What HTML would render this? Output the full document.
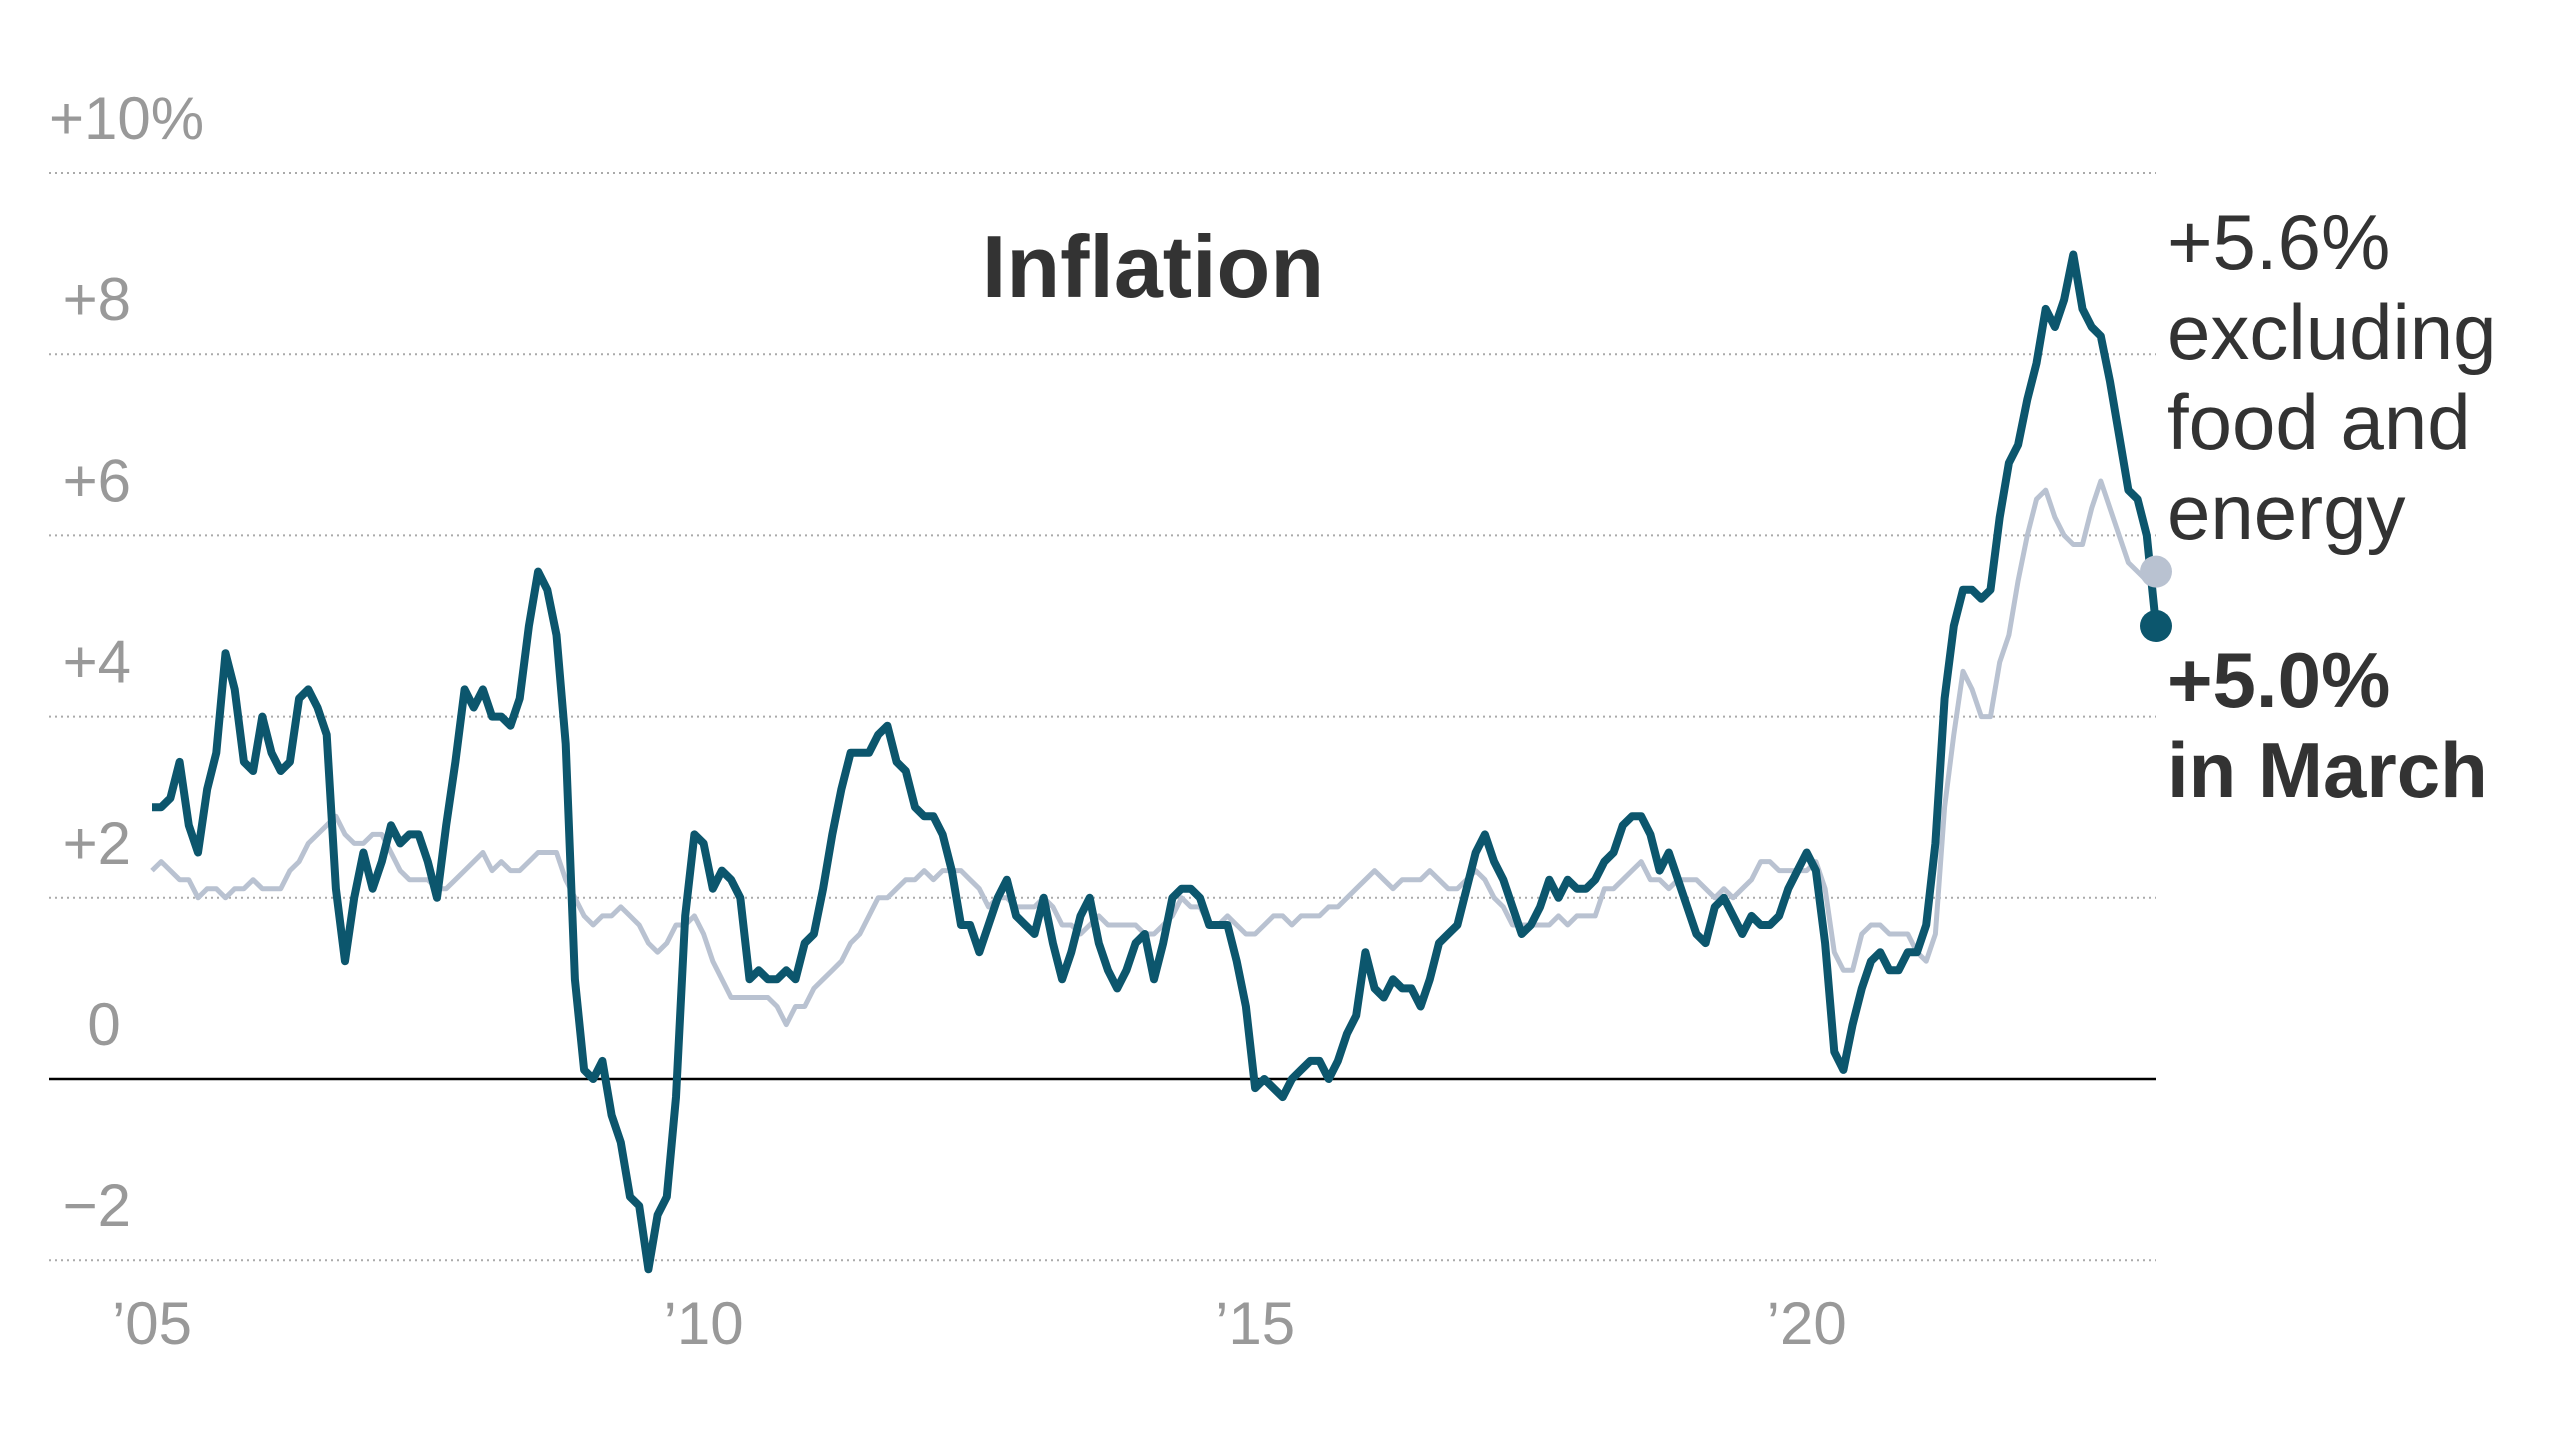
<!DOCTYPE html>
<html><head><meta charset="utf-8"><style>
html,body{margin:0;padding:0;background:#fff}
svg{display:block}
text{font-family:"Liberation Sans",sans-serif}
</style></head><body>
<svg id="chart" width="2560" height="1442" viewBox="0 0 2560 1442" xmlns="http://www.w3.org/2000/svg">
<text x="1153" y="297" font-size="88" font-weight="bold" fill="#333" text-anchor="middle">Inflation</text>
<g id="grid"></g>
<g id="yticks"></g>
<g id="xticks"></g>
<g id="series"></g>
<g font-size="78" fill="#333">
<text x="2167" y="269">+5.6%</text>
<text x="2167" y="359">excluding</text>
<text x="2167" y="449">food and</text>
<text x="2167" y="539">energy</text>
</g>
<g font-size="78" font-weight="bold" fill="#333">
<text x="2167" y="707">+5.0%</text>
<text x="2167" y="797">in March</text>
</g>
</svg>
<script>
const headline = [
3.0,3.0,3.1,3.5,2.8,2.5,3.2,3.6,4.7,4.3,3.5,3.4,
4.0,3.6,3.4,3.5,4.2,4.3,4.1,3.8,2.1,1.3,2.0,2.5,
2.1,2.4,2.8,2.6,2.7,2.7,2.4,2.0,2.8,3.5,4.3,4.1,
4.3,4.0,4.0,3.9,4.2,5.0,5.6,5.4,4.9,3.7,1.1,0.1,
0.0,0.2,-0.4,-0.7,-1.3,-1.4,-2.1,-1.5,-1.3,-0.2,1.8,2.7,
2.6,2.1,2.3,2.2,2.0,1.1,1.2,1.1,1.1,1.2,1.1,1.5,
1.6,2.1,2.7,3.2,3.6,3.6,3.6,3.8,3.9,3.5,3.4,3.0,
2.9,2.9,2.7,2.3,1.7,1.7,1.4,1.7,2.0,2.2,1.8,1.7,
1.6,2.0,1.5,1.1,1.4,1.8,2.0,1.5,1.2,1.0,1.2,1.5,
1.6,1.1,1.5,2.0,2.1,2.1,2.0,1.7,1.7,1.7,1.3,0.8,
-0.1,0.0,-0.1,-0.2,0.0,0.1,0.2,0.2,0.0,0.2,0.5,0.7,
1.4,1.0,0.9,1.1,1.0,1.0,0.8,1.1,1.5,1.6,1.7,2.1,
2.5,2.7,2.4,2.2,1.9,1.6,1.7,1.9,2.2,2.0,2.2,2.1,
2.1,2.2,2.4,2.5,2.8,2.9,2.9,2.7,2.3,2.5,2.2,1.9,
1.6,1.5,1.9,2.0,1.8,1.6,1.8,1.7,1.7,1.8,2.1,2.3,
2.5,2.3,1.5,0.3,0.1,0.6,1.0,1.3,1.4,1.2,1.2,1.4,
1.4,1.7,2.6,4.2,5.0,5.4,5.4,5.3,5.4,6.2,6.8,7.0,
7.5,7.9,8.5,8.3,8.6,9.1,8.5,8.3,8.2,7.7,7.1,6.5,
6.4,6.0,5.0];
const core = [
2.3,2.4,2.3,2.2,2.2,2.0,2.1,2.1,2.0,2.1,2.1,2.2,
2.1,2.1,2.1,2.3,2.4,2.6,2.7,2.8,2.9,2.7,2.6,2.6,
2.7,2.7,2.5,2.3,2.2,2.2,2.2,2.1,2.1,2.2,2.3,2.4,
2.5,2.3,2.4,2.3,2.3,2.4,2.5,2.5,2.5,2.2,2.0,1.8,
1.7,1.8,1.8,1.9,1.8,1.7,1.5,1.4,1.5,1.7,1.7,1.8,
1.6,1.3,1.1,0.9,0.9,0.9,0.9,0.9,0.8,0.6,0.8,0.8,
1.0,1.1,1.2,1.3,1.5,1.6,1.8,2.0,2.0,2.1,2.2,2.2,
2.3,2.2,2.3,2.3,2.3,2.2,2.1,1.9,2.0,2.0,1.9,1.9,
1.9,2.0,1.9,1.7,1.7,1.6,1.7,1.8,1.7,1.7,1.7,1.7,
1.6,1.6,1.7,1.8,2.0,1.9,1.9,1.7,1.7,1.8,1.7,1.6,
1.6,1.7,1.8,1.8,1.7,1.8,1.8,1.8,1.9,1.9,2.0,2.1,
2.2,2.3,2.2,2.1,2.2,2.2,2.2,2.3,2.2,2.1,2.1,2.2,
2.3,2.2,2.0,1.9,1.7,1.7,1.7,1.7,1.7,1.8,1.7,1.8,
1.8,1.8,2.1,2.1,2.2,2.3,2.4,2.2,2.2,2.1,2.2,2.2,
2.2,2.1,2.0,2.1,2.0,2.1,2.2,2.4,2.4,2.3,2.3,2.3,
2.3,2.4,2.1,1.4,1.2,1.2,1.6,1.7,1.7,1.6,1.6,1.6,
1.4,1.3,1.6,3.0,3.8,4.5,4.3,4.0,4.0,4.6,4.9,5.5,
6.0,6.4,6.5,6.2,6.0,5.9,5.9,6.3,6.6,6.3,6.0,5.7,
5.6,5.5,5.6];
const yTickValues = [10,8,6,4,2,0,-2];
const yTickLabels = ["+10%","+8","+6","+4","+2","0","\u22122"];
const xTickMonths = [0,60,120,180];
const xTickLabels = ["\u201905","\u201910","\u201915","\u201920"];

const NS = "http://www.w3.org/2000/svg";
const X0 = 152, X1 = 2156, Y0 = 1079, PER = 90.6;
const xScale = i => X0 + i * (X1 - X0) / 218;
const yScale = v => Y0 - v * PER;
function mk(tag, attrs, parent){const e=document.createElementNS(NS,tag);for(const k in attrs)e.setAttribute(k,attrs[k]);parent.appendChild(e);return e;}

const grid = document.getElementById('grid');
const yt = document.getElementById('yticks');
yTickValues.forEach((v,i)=>{
  const y = yScale(v);
  const ln = mk('line',{x1:49,x2:2156,y1:y,y2:y,stroke:v===0?'#000':'#aaa','stroke-width':v===0?2.5:2,'stroke-dasharray':v===0?'none':'2 4'},grid);
  
  
  let x = 131, anchor='end';
  if (i===0){x=49;anchor='start';}
  if (v===0){x=104;anchor='middle';}
  const t = mk('text',{x:x,y:y-34,'font-size':60,fill:'#999','text-anchor':anchor},yt);
  t.textContent = yTickLabels[i];
  
  
});
const xt = document.getElementById('xticks');
xTickMonths.forEach((m,i)=>{
  const t = mk('text',{x:xScale(m),y:1344,'font-size':60,fill:'#999','text-anchor':'middle'},xt);
  t.textContent = xTickLabels[i];
  
  
});
const sg = document.getElementById('series');
function path(arr){return arr.map((v,i)=>(i?'L':'M')+xScale(i).toFixed(1)+','+yScale(v).toFixed(1)).join('');}
const pc = mk('path',{d:path(core),fill:'none',stroke:'#b9c2d1','stroke-width':5,'stroke-linejoin':'round'},sg);


const ph = mk('path',{d:path(headline),fill:'none',stroke:'#0c566d','stroke-width':8,'stroke-linejoin':'round'},sg);


const dc = mk('circle',{cx:xScale(core.length-1),cy:yScale(core[core.length-1]),r:16,fill:'#b9c2d1'},sg);


const dh = mk('circle',{cx:xScale(headline.length-1),cy:yScale(headline[headline.length-1]),r:16,fill:'#0c566d'},sg);


</script>
</body></html>
